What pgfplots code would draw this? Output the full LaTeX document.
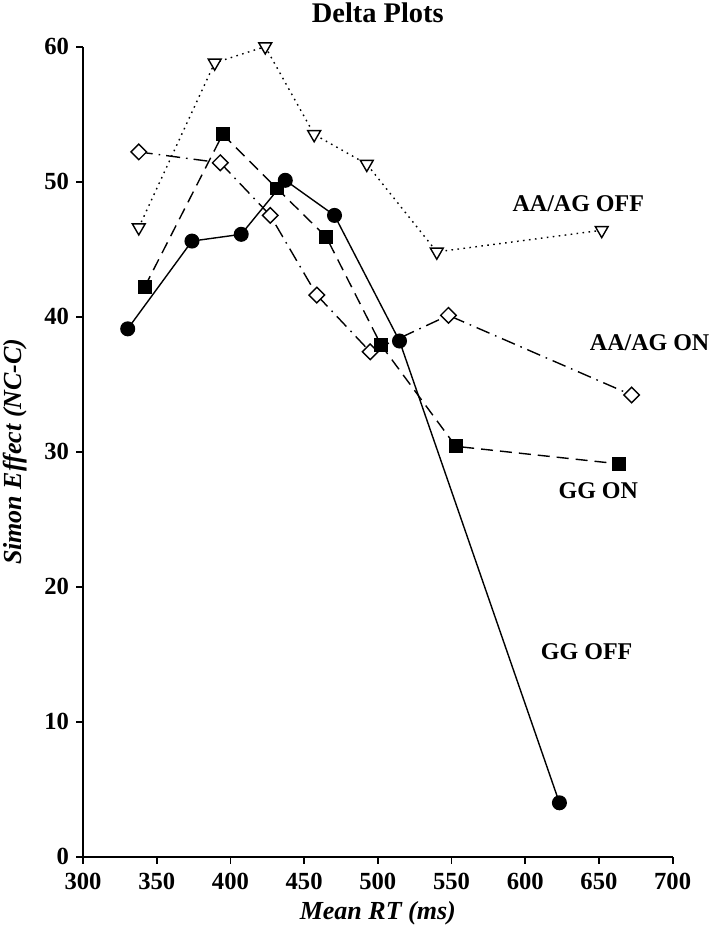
\documentclass[border=0pt]{standalone}
\usepackage{fontspec}
\setmainfont{Liberation Serif}
\usepackage{pgfplots}
\pgfplotsset{compat=1.18}

\begin{document}
\begin{tikzpicture}
\begin{axis}[
  scale only axis,
  width=294.5pt, height=404.7pt,
  xmin=300, xmax=700, ymin=0, ymax=60,
  axis lines*=left,
  axis line style={line width=0.9pt},
  xtick={300,350,...,700},
  ytick={0,10,...,60},
  tick align=outside,
  major tick length=3.5pt,
  tick style={line width=0.9pt, black},
  /pgf/number format/assume math mode=true,
  ticklabel style={font=\fontsize{12.3}{14}\selectfont\bfseries},
  xticklabel style={yshift=-1pt},
  title={Delta Plots},
  every axis title shift=0pt,
  title style={font=\fontsize{14.2}{16}\selectfont\bfseries, inner sep=0pt, inner ysep=1.3pt, anchor=south, yshift=10.5pt},
  xlabel={Mean RT (ms)},
  ylabel={Simon Effect (NC-C)},
  label style={font=\fontsize{13}{15}\selectfont\bfseries\itshape},
  xlabel style={inner sep=0pt, inner ysep=3.2pt, yshift=1pt},
  ylabel style={inner sep=0pt, inner ysep=1.5pt, yshift=3.7pt},
  clip=false,
]
% AA/AG OFF
\addplot[black, line width=0.7pt, dash pattern=on 0.8pt off 2.2pt,
  mark=triangle*, mark size=3.7pt, mark options={solid, fill=white, rotate=180}]
  coordinates {(337.8,46.6) (389.3,58.8) (423.6,60.0) (456.8,53.5) (492.5,51.3) (540,44.8) (651.9,46.4)};
% AA/AG ON
\addplot[black, line width=0.7pt, dash pattern=on 7pt off 3pt on 0.8pt off 3pt,
  mark=square*, mark size=2.75pt, mark options={solid, fill=white, rotate=45}]
  coordinates {(337.8,52.2) (393.1,51.4) (427,47.5) (458.6,41.6) (494.8,37.4) (547.9,40.1) (672.2,34.2)};
% GG ON
\addplot[black, line width=0.7pt, dash pattern=on 6pt off 3.5pt,
  mark=square*, mark size=3.1pt, mark options={solid, fill=black}]
  coordinates {(341.8,42.2) (394.7,53.5) (431.5,49.5) (465,45.9) (502.2,37.9) (552.9,30.4) (663.6,29.1)};
% GG OFF
\addplot[black, line width=0.7pt, solid,
  mark=*, mark size=3.4pt, mark options={fill=black}]
  coordinates {(330.3,39.1) (373.9,45.6) (407.3,46.1) (437.2,50.1) (470.6,47.5) (514.7,38.2) (623.2,4.0)};

\node[font=\fontsize{12}{14}\selectfont\bfseries, inner sep=0pt] at (axis cs:636,48.4) {AA/AG OFF};
\node[font=\fontsize{12}{14}\selectfont\bfseries, inner sep=0pt, inner xsep=0.5pt] at (axis cs:684.4,38.1) {AA/AG ON};
\node[font=\fontsize{12}{14}\selectfont\bfseries, inner sep=0pt] at (axis cs:649.6,27.1) {GG ON};
\node[font=\fontsize{12}{14}\selectfont\bfseries, inner sep=0pt] at (axis cs:641.7,15.2) {GG OFF};
\end{axis}
\end{tikzpicture}
\end{document}
